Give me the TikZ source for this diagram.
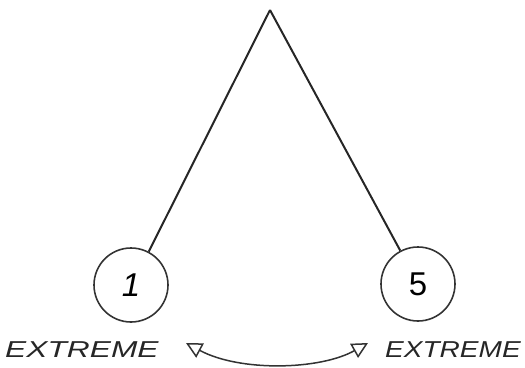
\documentclass[tikz,border=0pt]{standalone}
\usepackage{fontspec}
\setmainfont{Liberation Sans}
\usetikzlibrary{arrows.meta}
\newcommand{\widetext}[2]{\scalebox{#1}[1.0]{#2}}
\begin{document}
\begin{tikzpicture}[x=1pt,y=-1pt,
  sketch/.style={draw=black!85,line width=2pt},
  num/.style={circle,draw=black!80,line width=1.6pt,minimum size=74pt,inner sep=0pt,font=\fontsize{33}{33}\selectfont},
  lab/.style={font=\itshape\fontsize{23}{23}\selectfont,text=black!85,inner sep=0pt},
  twoway/.style={draw=black!80,line width=1.5pt,{Triangle[open,length=16pt,width=16pt]}-{Triangle[open,length=16pt,width=16pt]}}]
\useasboundingbox (0,0) rectangle (525,367);
\coordinate (apex) at (270,10);
\node[num] (one) at (131,285) {\itshape 1};
\node[num] (five) at (418,284) {5};
\draw[sketch] (apex) -- (one.62);
\draw[sketch] (apex) -- (five.118);
\node[lab,anchor=base west] (le) at (5,357) {\widetext{1.38}{EXTREME}};
\node[lab,anchor=base east] (re) at (521,357) {\widetext{1.22}{EXTREME}};
\coordinate (al) at (186,343);
\coordinate (ar) at (368,343);
\draw[twoway] (al) .. controls (240,372) and (320,370) .. (ar);
\end{tikzpicture}
\end{document}
